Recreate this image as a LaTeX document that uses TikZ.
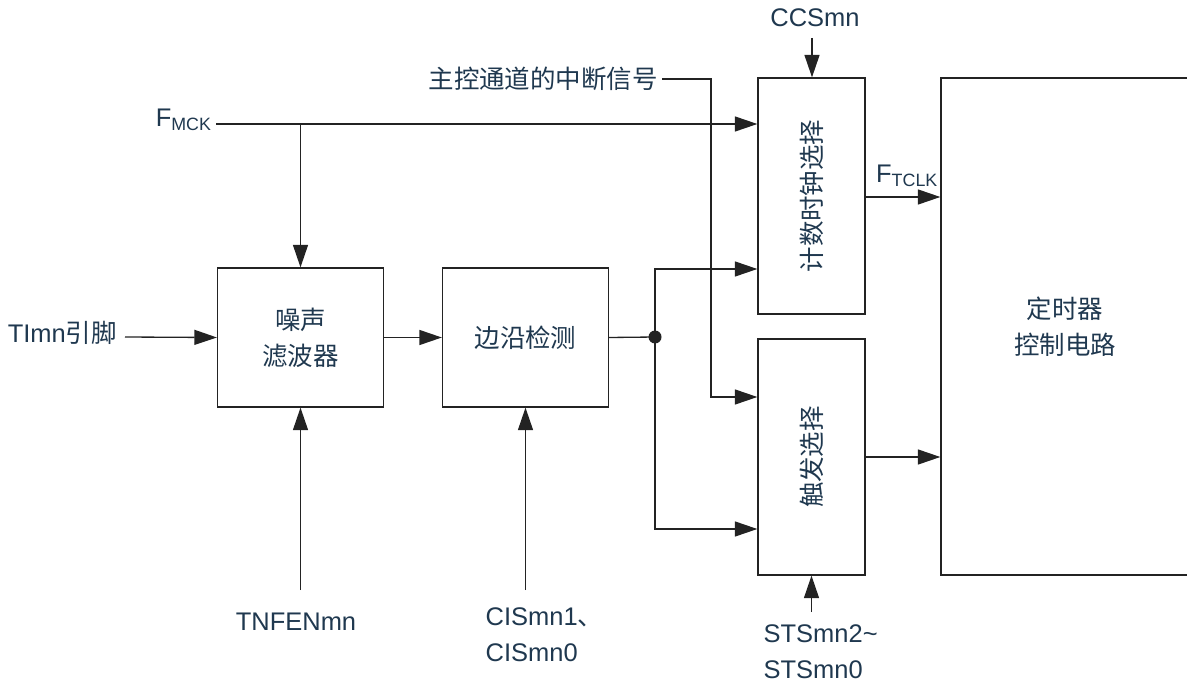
\documentclass[tikz,border=0pt]{standalone}
\usepackage{fontspec}
\setmainfont{Liberation Sans}
\newfontfamily\cjk{Noto Sans CJK SC}
\usetikzlibrary{arrows.meta, positioning}
\definecolor{labeltext}{RGB}{31,56,79}
\definecolor{linecol}{RGB}{35,35,35}
\newcommand{\lblsize}{\fontsize{14.5}{20.5}\selectfont}

\begin{document}
\begin{tikzpicture}[x=0.02cm, y=-0.02cm, line width=0.75pt, draw=linecol,
        >={Triangle[length=0.45cm, width=0.3cm]},
        blk/.style={draw=linecol, inner sep=0pt, text=labeltext, font=\cjk\lblsize, align=center},
        lbl/.style={text=labeltext, font=\lblsize, inner sep=2pt},
        vlbl/.style={text=labeltext, font=\cjk\lblsize, rotate=90, inner sep=0pt}]
    \useasboundingbox (0,0) rectangle (1187,682);

    % --- Blocs ---
    \node[blk, minimum width=3.32cm, minimum height=2.78cm] (nf) at (300.5,337.5) {噪声\\滤波器};
    \node[blk, minimum width=3.32cm, minimum height=2.78cm] (ed) at (525.5,337.5) {边沿检测};
    \node[blk, minimum width=2.14cm, minimum height=4.72cm] (cks) at (811.5,196) {};
    \node[vlbl] at (cks.center) {计数时钟选择};
    \node[blk, minimum width=2.14cm, minimum height=4.72cm] (trg) at (811.5,457) {};
    \node[vlbl] at (trg.center) {触发选择};
    \node[blk, minimum width=4.96cm, minimum height=9.94cm] (tmr) at (1065,326.5) {定时器\\控制电路};

    % --- Signaux ---
    \node[lbl, anchor=base east] (fmck) at (216,127) {F\textsubscript{MCK}};
    \node[lbl, anchor=base east] (tin) at (121,342) {TImn{\cjk 引脚}};
    \node[lbl, anchor=east, font=\cjk\lblsize] (intr) at (662,79) {主控通道的中断信号};
    \node[lbl] (ccs) at (815,18) {CCSmn};
    \node[lbl, anchor=base west] (ftclk) at (872,183) {F\textsubscript{TCLK}};
    \node[lbl] (tnfen) at (296,622) {TNFENmn};
    \node[lbl, anchor=west, align=left] (cis) at (481.5,634.5) {CISmn1{\cjk 、}\\CISmn0};
    \node[lbl, anchor=west, align=left] (sts) at (759.5,652) {STSmn2\textasciitilde\\STSmn0};

    % points de raccordement
    \coordinate (split) at (655,337);
    \coordinate (bend) at (711,397);
    \coordinate (tin-out) at (125,337);
    \coordinate (ccs-in) at (812,38);
    \coordinate (tnfen-in) at (300.5,590);
    \coordinate (cis-in) at (525.5,590);
    \coordinate (sts-in) at (811.5,612);

    % --- Connexions ---
    \draw[->] (fmck.base east |- 0,124) -- (cks.west |- 0,124);
    \draw[->] (nf.north |- 0,124) -- (nf.north);
    \draw[->] (tin-out) -- (nf.west);
    \draw[->] (nf) -- (ed);
    \draw (ed.east) -- (split);
    \fill[linecol] (split) circle[radius=0.13cm];
    \draw[->] (split) |- (cks.west |- 0,269);
    \draw[->] (split) |- (trg.west |- 0,529);
    \draw[->] (intr.east) -| (bend) -- (bend -| trg.west);
    \draw[->] (ccs-in) -- (cks.north -| ccs-in);
    \draw[->] (cks.east |- 0,197) -- (tmr.west |- 0,197);
    \draw[->] (trg.east) -- (tmr.west |- trg.east);
    \draw[->] (tnfen-in) -- (nf.south);
    \draw[->] (cis-in) -- (ed.south);
    \draw[->] (sts-in) -- (trg.south);
\end{tikzpicture}
\end{document}
